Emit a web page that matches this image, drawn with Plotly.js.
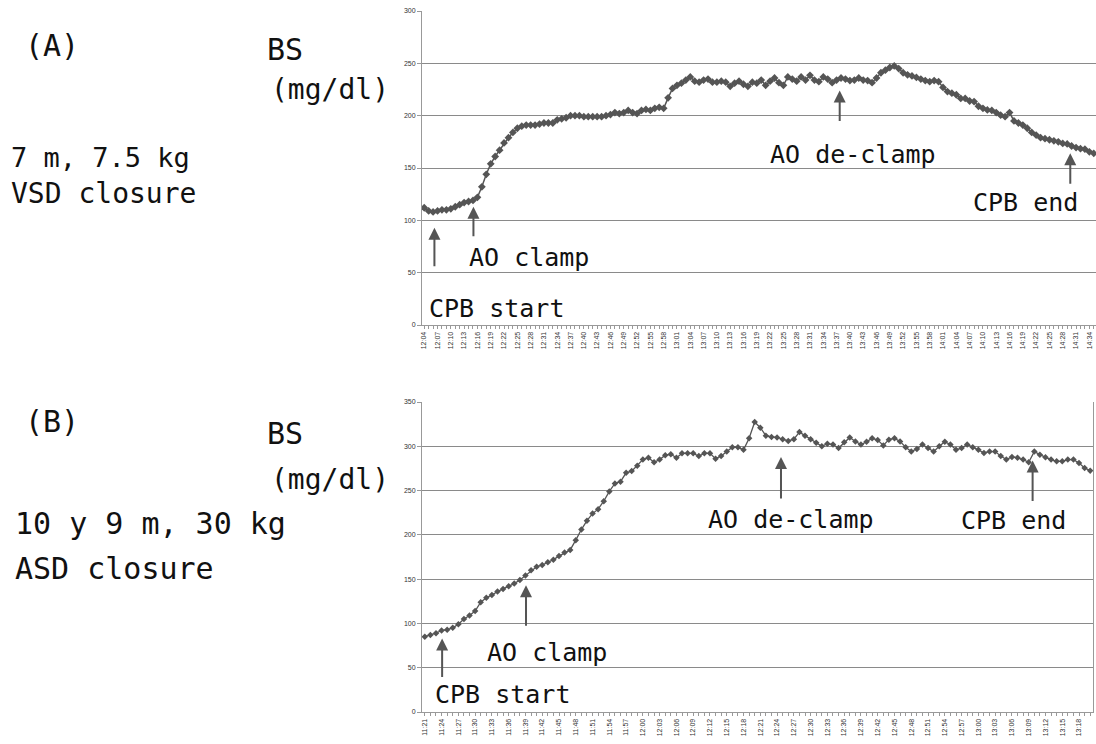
<!DOCTYPE html>
<html>
<head>
<meta charset="utf-8">
<script src="https://cdn.plot.ly/plotly-3.0.1.min.js"></script>
<style>
html,body{margin:0;padding:0;background:#fff;}
#chart{width:1096px;height:744px;}
</style>
</head>
<body>
<div id="chart"></div>
<script>
// ---------- data ----------
function makeTimes(start, count) {
  var p = start.split(':'), m = (+p[0]) * 60 + (+p[1]), out = [];
  for (var i = 0; i < count; i++) {
    var t = m + i;
    out.push(Math.floor(t / 60) + ':' + ('0' + (t % 60)).slice(-2));
  }
  return out;
}
const timesA = makeTimes('12:04', 152);   // 12:04 ... 14:35, one reading per minute
const timesB = makeTimes('11:21', 120);   // 11:21 ... 13:20

const bsA = [
  112,109,108,109,110,110,111,113,115,117,
  118,119,122,132,144,154,161,167,174,179,
  184,188,190,191,191,191,192,193,193,193,
  196,197,198,200,200,200,199,199,199,199,
  199,200,201,203,202,203,205,203,202,205,
  206,205,207,208,207,217,226,229,231,234,
  237,233,232,234,235,232,232,233,232,228,
  231,233,230,228,232,231,234,229,233,236,
  231.5,229,237,235,233,237,234,238.5,234,232.5,
  237,235,231.5,234,236,235,233.5,234,236,234,
  233.5,231.5,236,241,243.5,246,247.5,245,241,239,
  238,236.5,235,233.5,232.5,233.5,232.5,227,223,221.5,
  220,216.5,216.5,214,213.5,209,207,205.5,205,203,
  200.5,199,203,195,193,191,188,184,181.5,179,
  178,177,176,175,173.5,173,171,169.5,168.5,168,
  165.5,164
];

const bsB = [
  85,87,89,92,93,95,99,105,109,114,
  124,129,132,136,139,142,145,149,154,160,
  164,166,169,172,176,180,183,194,206,216,
  224,229,238,249,258,260,270,272,278,285,
  287,282,285,290,291,287,292,292,292,289,
  292,292,286,289,294,299,299,296,309,327.5,
  321,312,310.5,310,308,306,308,316,312,308,
  304,300,303,302,298,304.5,310,305.5,302,305,
  309,307,301,307.5,309,305.5,299,294,297,302,
  298,294,300,305,302,296,298,302,299,296,
  292.5,294,294,289,285,288,287,285,282,294,
  290.5,287.5,285,283,283,285,285,281,275.5,272.5
];

function tickLabels(times) {
  return times.map(function (t, i) { return i % 3 === 0 ? t : ''; });
}
const tickTextA = tickLabels(timesA);
const tickTextB = tickLabels(timesB);

// ---------- helpers ----------
const W = 1096, H = 744;
function px(x) { return x / W; }
function py(y) { return 1 - y / H; }

const traces = [
  { x: timesA, y: bsA, type: 'scatter', mode: 'lines+markers',
    line: { color: '#555555', width: 1.5 }, marker: { symbol: 'diamond', size: 6, color: '#555555' },
    xaxis: 'x', yaxis: 'y', hoverinfo: 'x+y' },
  { x: timesB, y: bsB, type: 'scatter', mode: 'lines+markers',
    line: { color: '#555555', width: 1.3 }, marker: { symbol: 'diamond', size: 5, color: '#555555' },
    xaxis: 'x2', yaxis: 'y2', hoverinfo: 'x+y' }
];

function xAxis(times, ticktext, domain, anchor) {
  return {
    type: 'category', domain: domain, anchor: anchor,
    range: [-0.5, times.length - 0.5],
    tickmode: 'array', tickvals: times, ticktext: ticktext,
    tickangle: -90, tickfont: { family: 'Liberation Sans, Arial, sans-serif', size: 7, color: '#333' },
    ticks: 'outside', ticklen: 3, tickcolor: '#999', tickwidth: 1,
    showline: true, linecolor: '#999', linewidth: 1,
    showgrid: false, zeroline: false, automargin: false, fixedrange: true
  };
}
function yAxis(max, domain, anchor) {
  return {
    domain: domain, anchor: anchor, range: [0, max],
    tickmode: 'linear', tick0: 0, dtick: 50,
    tickfont: { family: 'Liberation Sans, Arial, sans-serif', size: 7, color: '#333' },
    ticks: 'outside', ticklen: 4, tickcolor: '#999',
    showline: true, linecolor: '#999', linewidth: 1, mirror: true,
    showgrid: true, gridcolor: '#8a8a8a', gridwidth: 1,
    zeroline: false, automargin: false, fixedrange: true
  };
}

const bigFont = 'DejaVu Sans Mono, Liberation Mono, monospace';
function label(text, x, y, size, anchor) {
  return { text: text, xref: 'paper', yref: 'paper', x: px(x), y: py(y),
    xanchor: anchor || 'left', yanchor: 'middle', showarrow: false, borderpad: 0,
    font: { family: bigFont, size: size, color: '#111' } };
}
function arrow(xr, yr, idx, val, len) {
  return { text: '', xref: xr, yref: yr, x: idx, y: val, ax: 0, ay: len,
    showarrow: true, arrowhead: 2, arrowsize: 1.2, arrowwidth: 2,
    arrowcolor: '#555555', standoff: 0 };
}

const annotations = [
  // panel A
  label('(A)', 24, 46, 30),
  label('BS', 266, 49, 30),
  label('(mg/dl)', 270, 89, 28),
  label('7 m, 7.5 kg', 10, 157, 27),
  label('VSD closure', 10, 193, 28),
  label('CPB start', 428, 308, 25),
  label('AO clamp', 468, 257, 25),
  label('AO de-clamp', 769, 154, 25),
  label('CPB end', 972, 203, 25),
  arrow('x', 'y', 2.3, 93, 40),
  arrow('x', 'y', 11.1, 113, 31),
  arrow('x', 'y', 93.7, 224, 32),
  arrow('x', 'y', 145.7, 164, 32),
  // panel B
  label('(B)', 24, 421, 30),
  label('BS', 266, 433, 30),
  label('(mg/dl)', 270, 479, 28),
  label('10 y 9 m, 30 kg', 14, 523, 30),
  label('ASD closure', 14, 568, 30),
  label('CPB start', 434, 694, 25),
  label('AO clamp', 486, 652, 25),
  label('AO de-clamp', 707, 519, 25),
  label('CPB end', 960, 520, 25),
  arrow('x2', 'y2', 3.1, 83, 40),
  arrow('x2', 'y2', 18.1, 143, 42),
  arrow('x2', 'y2', 63.7, 288, 43),
  arrow('x2', 'y2', 108.7, 284, 42)
];

const layout = {
  width: W, height: H,
  margin: { l: 0, r: 0, t: 0, b: 0, pad: 0 },
  paper_bgcolor: '#ffffff', plot_bgcolor: '#ffffff',
  showlegend: false,
  xaxis: xAxis(timesA, tickTextA, [px(422), 1], 'y'),
  yaxis: yAxis(300, [py(325), py(11)], 'x'),
  xaxis2: xAxis(timesB, tickTextB, [px(422), px(1093)], 'y2'),
  yaxis2: yAxis(350, [py(712), py(402)], 'x2'),
  annotations: annotations
};

Plotly.newPlot('chart', traces, layout, { displayModeBar: false, staticPlot: true });
</script>
</body>
</html>
